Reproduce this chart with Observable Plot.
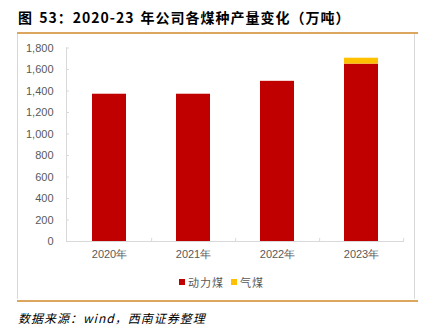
<!DOCTYPE html>
<html>
<head>
<meta charset="utf-8">
<script src="https://cdn.jsdelivr.net/npm/d3@7"></script>
<script src="https://cdn.jsdelivr.net/npm/@observablehq/plot@0.6"></script>
<style>
  body { margin: 0; background: #fff; width: 424px; height: 334px; position: relative; overflow: hidden; }
  .title { position: absolute; left: 18px; top: 7px; font-family: "Noto Sans CJK SC", sans-serif; font-weight: bold; font-size: 14px; letter-spacing: 1px; word-spacing: 2px; color: #000; white-space: nowrap; }
  .rule { position: absolute; left: 17px; width: 401px; height: 2px; background: #DDA65F; }
  .box { position: absolute; left: 17px; top: 34px; width: 398px; height: 265px; border: 1px solid #D9D9D9; border-top: none; border-bottom: none; box-sizing: border-box; }
  #chart { position: absolute; left: 0; top: 34px; }
  .legend { position: absolute; top: 274px; left: 179px; font-family: "Noto Sans CJK SC", sans-serif; font-size: 11px; letter-spacing: 1px; color: #595959; display: flex; align-items: center; white-space: nowrap; }
  .legend span.sw { display: inline-block; width: 6px; height: 6px; margin-right: 3px; }
  .legend span.item { display: flex; align-items: center; margin-right: 7px; }
  .source { position: absolute; left: 18px; top: 309px; font-family: "Noto Sans CJK SC", sans-serif; font-style: italic; font-size: 12px; letter-spacing: 1px; color: #000; white-space: nowrap; }
</style>
</head>
<body>
<div class="title">图 53：2020-23 年公司各煤种产量变化（万吨）</div>
<div class="rule" style="top:32px"></div>
<div class="box"></div>
<div id="chart"></div>
<div class="legend" id="legend"></div>
<div class="rule" style="top:300px"></div>
<div class="source">数据来源：wind，西南证券整理</div>
<script>
const years = ["2020年", "2021年", "2022年", "2023年"];
const seriesNames = ["动力煤", "气煤"];
const thermalCoal = [1370, 1370, 1490, 1650];
const gasCoal = [0, 0, 0, 55];
const yTicks = [0, 200, 400, 600, 800, 1000, 1200, 1400, 1600, 1800];
const colors = ["#C00000", "#FFC000"];

const rows = [];
years.forEach((y, i) => {
  rows.push({year: y, type: seriesNames[0], value: thermalCoal[i]});
  rows.push({year: y, type: seriesNames[1], value: gasCoal[i]});
});

const W = 424, H = 240, mL = 66, mR = 21, mT = 13.5, mB = 33;
const pInner = 0.6, pOuter = 0.3;
const step = (W - mL - mR) / (years.length - pInner + 2 * pOuter);

const chart = Plot.plot({
  width: W,
  height: H,
  marginLeft: mL,
  marginRight: mR,
  marginTop: mT,
  marginBottom: mB,
  style: {fontFamily: "Liberation Sans, sans-serif", fontSize: "11px", color: "#595959", background: "transparent", overflow: "visible"},
  x: {domain: years, paddingInner: pInner, paddingOuter: pOuter, label: null},
  y: {domain: [0, 1800], label: null},
  color: {domain: seriesNames, range: colors},
  marks: [
    Plot.barY(rows, {x: "year", y: "value", fill: "type", order: seriesNames}),
    Plot.frame({anchor: "left", stroke: "#D9D9D9"}),
    Plot.frame({anchor: "bottom", stroke: "#D9D9D9"}),
    Plot.axisY({ticks: yTicks, tickSize: 3, dx: 3, stroke: "#D9D9D9", tickFormat: () => ""}),
    Plot.axisY({ticks: yTicks, tickSize: 0, tickPadding: 13, tickFormat: d3.format(","), fill: "#595959"}),
    Plot.axisX({tickSize: 3, dx: step / 2, dy: -3, stroke: "#D9D9D9", tickFormat: () => ""}),
    Plot.axisX({tickSize: 0, tickPadding: 9, fill: "#595959"})
  ]
});
document.getElementById("chart").appendChild(chart);

const legend = document.getElementById("legend");
seriesNames.forEach((n, i) => {
  const item = document.createElement("span");
  item.className = "item";
  const sw = document.createElement("span");
  sw.className = "sw";
  sw.style.background = colors[i];
  item.appendChild(sw);
  item.appendChild(document.createTextNode(n));
  legend.appendChild(item);
});
</script>
</body>
</html>
